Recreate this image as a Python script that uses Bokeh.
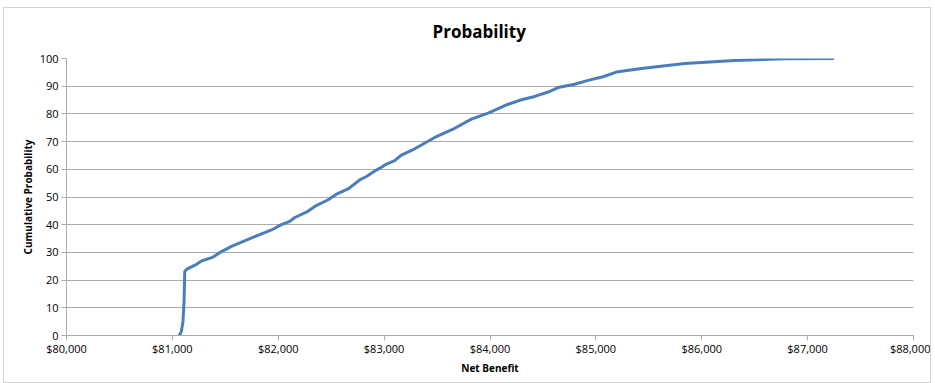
from bokeh.plotting import figure
from bokeh.models import NumeralTickFormatter, FixedTicker, Range1d, Title
from bokeh.embed import file_html
from bokeh.resources import INLINE

net_benefit = [81065, 81085, 81100, 81110, 81117, 81135, 81165, 81228, 81275, 81385,
               81464, 81558, 81778, 81936, 82030, 82109, 82156, 82266, 82345, 82471,
               82550, 82660, 82770, 82833, 82912, 82960, 83022, 83100, 83163, 83289,
               83478, 83667, 83824, 83982, 84171, 84297, 84422, 84549, 84643, 84800,
               84926, 85068, 85193, 85430, 85839, 86311, 86783, 87240]
cum_prob = [0, 1.5, 5, 12, 23.1, 23.9, 24.5, 25.7, 26.9, 28.3,
            30.3, 32.2, 35.7, 38.1, 40, 41.2, 42.6, 44.5, 46.6, 49,
            51, 52.9, 56.2, 57.4, 59.4, 60.4, 61.9, 63.1, 65.1, 67.4,
            71.5, 74.8, 78.1, 80.3, 83.5, 85.1, 86.3, 87.9, 89.5, 90.7,
            92.1, 93.4, 95.1, 96.4, 98.2, 99.3, 99.9, 100]
x_ticks = [80000, 81000, 82000, 83000, 84000, 85000, 86000, 87000, 88000]
y_ticks = [0, 10, 20, 30, 40, 50, 60, 70, 80, 90, 100]

FONT = "'Open Sans'"
GRID = "#ABABAB"

p = figure(width=928, height=376, output_backend="svg", toolbar_location=None,
           title=None,
           x_range=Range1d(80000, 88000), y_range=Range1d(0, 100),
           min_border_left=62, min_border_right=19, min_border_top=50, min_border_bottom=49)
p.margin = (7, 0, 0, 3)
p.styles = {"border": "1px solid #D0D0D0"}

p.add_layout(Title(text=" ", text_font_size="8px", standoff=0), "above")
p.add_layout(Title(text="Probability", align="left", offset=366,
                   text_font=FONT, text_font_size="17px", text_font_style="bold",
                   text_color="#000000"), "above")

p.line(net_benefit, cum_prob, line_color="#4A7EBB", line_width=3, line_join="round", line_cap="round")

p.outline_line_color = None
p.xgrid.grid_line_color = None
p.ygrid.grid_line_color = GRID
p.ygrid.grid_line_width = 1

p.xaxis.ticker = FixedTicker(ticks=x_ticks)
p.yaxis.ticker = FixedTicker(ticks=y_ticks)
p.xaxis.formatter = NumeralTickFormatter(format="$0,0")
p.xaxis.axis_label = "Net Benefit"
p.yaxis.axis_label = "Cumulative Probability"

for ax in (p.xaxis[0], p.yaxis[0]):
    ax.axis_line_color = GRID
    ax.major_tick_line_color = GRID
    ax.major_tick_in = 0
    ax.major_tick_out = 5
    ax.minor_tick_line_color = None
    ax.major_label_text_font = FONT
    ax.major_label_text_font_size = "11px"
    ax.major_label_text_color = "#000000"
    ax.axis_label_text_font = FONT
    ax.axis_label_text_font_size = "10px"
    ax.axis_label_text_font_style = "bold"
    ax.axis_label_text_color = "#000000"

p.xaxis.major_label_standoff = 0
p.xaxis.axis_label_standoff = 2
p.yaxis.major_label_standoff = 3
p.yaxis.axis_label_standoff = 2

open("out.html", "w").write(file_html(p, INLINE))
